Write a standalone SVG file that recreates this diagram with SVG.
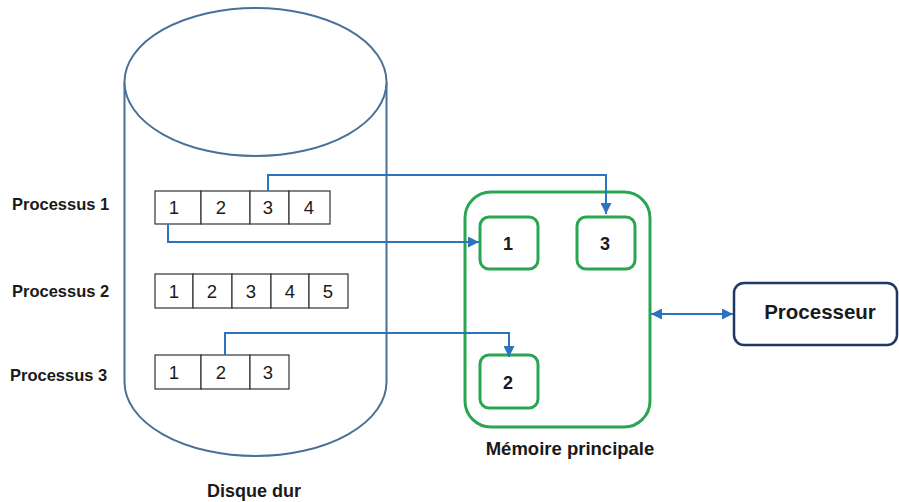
<svg xmlns="http://www.w3.org/2000/svg" width="899" height="502" viewBox="0 0 899 502">
  <defs>
    <style>
      .lbl { font-family: "Liberation Sans", Arial, sans-serif; font-weight: bold; font-size: 16.5px; fill: #1a1a1a; }
      .cap { font-family: "Liberation Sans", Arial, sans-serif; font-weight: bold; font-size: 18px; fill: #1a1a1a; text-anchor: middle; }
      .cell { fill: #ffffff; stroke: #333333; stroke-width: 1.2; }
      .num { font-family: "Liberation Sans", Arial, sans-serif; font-size: 18.5px; fill: #1a1a1a; text-anchor: middle; }
      .disk { fill: #ffffff; stroke: #4a6f98; stroke-width: 2; }
      .mem { fill: #ffffff; stroke: #2aa652; stroke-width: 3; }
      .page { font-family: "Liberation Sans", Arial, sans-serif; font-weight: bold; font-size: 18px; fill: #1a1a1a; text-anchor: middle; }
      .link { fill: none; stroke: #2a74bd; stroke-width: 2; }
    </style>
    <marker id="arr" viewBox="0 0 10 10" refX="10" refY="5" markerWidth="5.5" markerHeight="5.5" orient="auto-start-reverse" markerUnits="strokeWidth">
      <path d="M0,0 L10,5 L0,10 z" fill="#2a74bd"/>
    </marker>
  </defs>
  <rect width="899" height="502" fill="#ffffff"/>

  <!-- hard disk cylinder -->
  <g id="disque">
    <path class="disk" d="M124.5,82 L124.5,382 A131,74 0 0 0 386.5,382 L386.5,82"/>
    <ellipse class="disk" cx="255.5" cy="82" rx="131" ry="74"/>
    <text class="cap" x="254" y="497">Disque dur</text>
  </g>

  <!-- process 1 pages -->
  <g id="processus1">
    <text class="lbl" x="12" y="210">Processus 1</text>
    <rect class="cell" x="155" y="191" width="46" height="33"/>
    <rect class="cell" x="201" y="191" width="49" height="33"/>
    <rect class="cell" x="250" y="191" width="39" height="33"/>
    <rect class="cell" x="289" y="191" width="41" height="33"/>
    <text class="num" x="174" y="214">1</text>
    <text class="num" x="221" y="214">2</text>
    <text class="num" x="268" y="214">3</text>
    <text class="num" x="309" y="214">4</text>
  </g>

  <!-- process 2 pages -->
  <g id="processus2">
    <text class="lbl" x="12" y="297">Processus 2</text>
    <rect class="cell" x="155" y="274" width="38" height="34"/>
    <rect class="cell" x="193" y="274" width="39" height="34"/>
    <rect class="cell" x="232" y="274" width="39" height="34"/>
    <rect class="cell" x="271" y="274" width="38" height="34"/>
    <rect class="cell" x="309" y="274" width="39" height="34"/>
    <text class="num" x="174" y="298">1</text>
    <text class="num" x="212" y="298">2</text>
    <text class="num" x="251" y="298">3</text>
    <text class="num" x="290" y="298">4</text>
    <text class="num" x="328" y="298">5</text>
  </g>

  <!-- process 3 pages -->
  <g id="processus3">
    <text class="lbl" x="10" y="381">Processus 3</text>
    <rect class="cell" x="155" y="355" width="46" height="34"/>
    <rect class="cell" x="201" y="355" width="49" height="34"/>
    <rect class="cell" x="250" y="355" width="39" height="34"/>
    <text class="num" x="174" y="379">1</text>
    <text class="num" x="221" y="379">2</text>
    <text class="num" x="268" y="379">3</text>
  </g>

  <!-- main memory with loaded pages -->
  <g id="memoire">
    <rect class="mem" x="465" y="192" width="185" height="235" rx="26"/>
    <text class="cap" x="570" y="455" style="font-size:18.5px">Mémoire principale</text>
  </g>
  <g id="page1">
    <rect class="mem" x="480" y="217" width="58" height="52" rx="9"/>
    <text class="page" x="508" y="250">1</text>
  </g>
  <g id="page3">
    <rect class="mem" x="577" y="217" width="58" height="52" rx="9"/>
    <text class="page" x="605" y="250">3</text>
  </g>
  <g id="page2">
    <rect class="mem" x="480" y="355" width="58" height="53" rx="9"/>
    <text class="page" x="508" y="389">2</text>
  </g>

  <!-- processor -->
  <g id="processeur">
    <rect x="734" y="283" width="163" height="62" rx="10" fill="#ffffff" stroke="#1f3864" stroke-width="2.5"/>
    <text x="820" y="319" font-family="'Liberation Sans', Arial, sans-serif" font-weight="bold" font-size="20.5" fill="#1a1a1a" text-anchor="middle">Processeur</text>
  </g>

  <!-- connectors -->
  <g id="connecteurs">
    <path class="link" d="M268,191 V175 H606 V214" marker-end="url(#arr)"/>
    <path class="link" d="M168,224 V242 H479" marker-end="url(#arr)"/>
    <path class="link" d="M225,355 V333 H509 V357" marker-end="url(#arr)"/>
    <path class="link" d="M651,314 H733" marker-start="url(#arr)" marker-end="url(#arr)"/>
  </g>
</svg>
